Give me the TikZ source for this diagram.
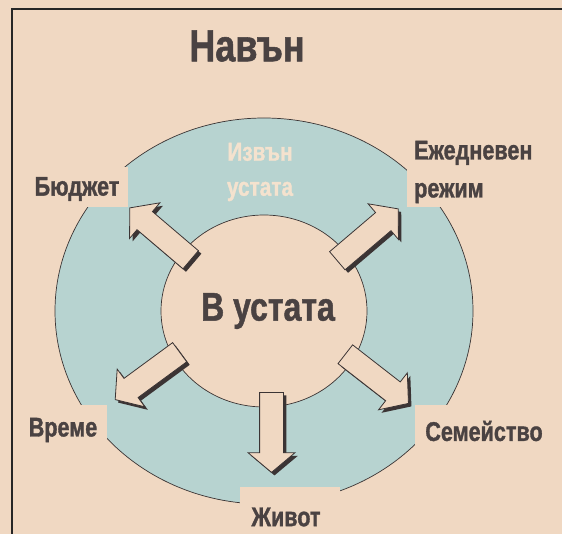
\documentclass[tikz,border=0pt]{standalone}
\usepackage{fontspec}
\setmainfont{Liberation Sans}[FakeStretch=0.8, BoldFeatures={FakeBold=1.2}]
\usetikzlibrary{shapes.arrows, shapes.geometric}

\definecolor{peach}{HTML}{F0D8C2}
\definecolor{ringteal}{HTML}{B7D3D0}
\definecolor{inkgray}{HTML}{4A4242}
\definecolor{edgegray}{HTML}{3B3434}
\definecolor{paletext}{HTML}{F4E2CE}

\begin{document}
\begin{tikzpicture}[x=1pt,y=-1pt,
    lab/.style={font=\bfseries\fontsize{27}{38}\selectfont, text=inkgray, inner sep=0pt},
    zone/.style={ellipse, draw=edgegray, line width=0.7pt, inner sep=0pt},
    blockarrow/.style={single arrow, draw=edgegray, fill=peach, line width=0.8pt,
      minimum height=80pt, inner xsep=0pt, inner ysep=11.5pt,
      single arrow head extend=11.5pt, single arrow tip angle=100, anchor=tail},
    arrowshade/.style={blockarrow, draw=none, fill=edgegray}]
  % Background and frame
  \clip (0,0) rectangle (562,534);
  \fill[peach] (0,0) rectangle (562,534);
  \draw[black!85, line width=2.5pt] (12,9) rectangle (580,550);
  % Title
  \node[lab, font=\bfseries\fontsize{45}{50}\selectfont] (title) at (247,46) {Навън};
  % Zones
  \node[zone, fill=ringteal, minimum width=418pt, minimum height=386pt] (outside) at (264,311) {};
  \node[zone, fill=peach, minimum width=206pt, minimum height=192pt] (mouth) at (264,311) {};
  % Label patches
  \fill[peach] (25,167) rectangle (128,207);
  \fill[peach] (407,135) rectangle (560,207);
  \fill[peach] (20,405) rectangle (107,455);
  \fill[peach] (415,405) rectangle (555,460);
  \fill[peach] (240,487) rectangle (340,534);
  % Arrows
  \foreach \n/\px/\py/\ang in {1/191/260/139.6, 2/337/261/40.4, 3/180/352/216.3,
                                4/271.5/392/-90, 5/345/354/-37.9} {
    \node[arrowshade, rotate=\ang] (s\n) at (\px+3,\py+3) {};
    \node[blockarrow, rotate=\ang] (a\n) at (\px,\py) {};
  }
  % Labels
  \node[lab, font=\bfseries\fontsize{40}{44}\selectfont] (inside) at (268,311) {В устата};
  \node[lab, text=paletext, align=center, font=\bfseries\fontsize{26}{35}\selectfont] (outtext) at (260,172) {Извън\\устата};
  \node[lab] (budget) at (77,189) {Бюджет};
  \node[lab, align=left, anchor=west] (routine) at (414,172) {Ежедневен\\режим};
  \node[lab] (time) at (63,430) {Време};
  \node[lab] (family) at (484,431) {Семейство};
  \node[lab] (life) at (286,517) {Живот};
\end{tikzpicture}
\end{document}
